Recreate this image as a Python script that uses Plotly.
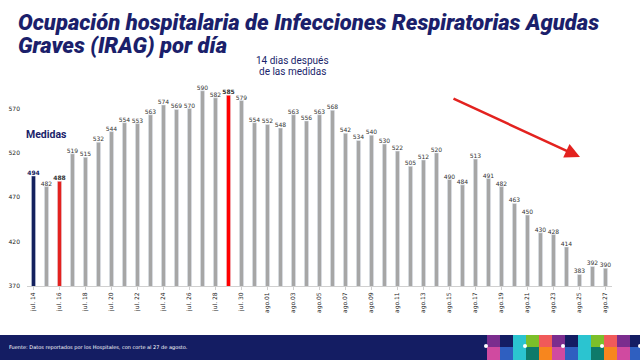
import plotly.graph_objects as go

# ---- data ----
days = (["jul. %d" % d for d in range(14, 32)] +
        ["ago.%02d" % d for d in range(1, 28)])
values = [494, 482, 488, 519, 515, 532, 544, 554, 553, 563, 574, 569, 570, 590,
          582, 585, 579, 554,
          552, 548, 563, 556, 563, 568, 542, 534, 540, 530, 522, 505, 512, 520,
          490, 484, 513, 491, 482, 463, 450, 430, 428, 414, 383, 392, 390]
highlight = {"jul. 14": "navy", "jul. 16": "red1", "jul. 29": "red2"}
yticks = [370, 420, 470, 520, 570]

W, H = 640, 360
ML, MR, MT, MB = 27, 28, 73, 74
PW, PH = W - ML - MR, H - MT - MB


def px(x):
    return (x - ML) / PW


def py(y):
    return (H - MB - y) / PH


cmap = {"navy": "#14215e", "red1": "#e3221f", "red2": "#ff0000"}
colors = [cmap.get(highlight.get(d), "#a6a6a6") for d in days]
texts = []
for d, v in zip(days, values):
    if highlight.get(d) == "navy":
        texts.append("<span style='color:#14215e'><b>%d</b></span>" % v)
    elif d in highlight:
        texts.append("<b>%d</b>" % v)
    else:
        texts.append(str(v))

fig = go.Figure(go.Bar(
    x=days, y=values, marker_color=colors, text=texts,
    textposition="outside", cliponaxis=False,
    textfont=dict(size=6, color="#333333", family="DejaVu Sans"),
    width=0.32, hoverinfo="skip",
))

fig.update_layout(
    width=W, height=H, margin=dict(l=ML, r=MR, t=MT, b=MB, autoexpand=False),
    plot_bgcolor="white", paper_bgcolor="white", showlegend=False,
    uniformtext=dict(minsize=5, mode="show"),
)
fig.update_xaxes(
    type="category", range=[-0.5, len(days) - 0.5], automargin=False,
    tickvals=days[::2], ticktext=days[::2], tickangle=-90,
    tickfont=dict(size=6, color="#222222", family="DejaVu Sans"),
    showline=True, linecolor="#d0d0d0", linewidth=1,
    ticks="outside", ticklen=3, tickcolor="#d0d0d0", showgrid=False,
)
fig.update_yaxes(
    range=[370, 610], tickvals=yticks, showgrid=False, zeroline=False,
    automargin=False, ticklabelstandoff=6,
    tickfont=dict(size=6, color="#222222", family="DejaVu Sans"),
    showline=False,
)


def label(x, y, text, size, xanchor="center", **font):
    return dict(x=px(x), y=py(y), xref="paper", yref="paper", text=text,
                xanchor=xanchor, yanchor="middle", showarrow=False, align="center",
                font=dict(size=size, **font))


title_font = dict(family="Roboto", color="#1b1f6b", weight=900, style="italic")
ann = [
    label(16, 22, "Ocupación hospitalaria de Infecciones Respiratorias Agudas",
          22, xanchor="left", **title_font),
    label(16, 45, "Graves (IRAG) por día", 22, xanchor="left", **title_font),
    label(292, 60, "14 dias después", 10, family="Roboto", color="#1b1f6b"),
    label(292, 72, "de las medidas", 10, family="Roboto", color="#1b1f6b"),
    label(46, 134, "<b>Medidas</b>", 10.5, family="Roboto", color="#1b1f6b"),
    label(7, 347, "Fuente: Datos reportados por los Hospitales, con corte al 27 de agosto.",
          5, xanchor="left", family="DejaVu Sans", color="white"),
    dict(x=px(580), y=py(157), xref="paper", yref="paper", text="",
         showarrow=True, arrowhead=2, arrowsize=1.2, arrowwidth=2.5,
         arrowcolor="#e3221f", ax=452 - 580, ay=98 - 157),
]

shapes = []
shapes.append(dict(type="rect", xref="paper", yref="paper",
                   x0=px(0), x1=px(640), y0=py(335), y1=py(362),
                   fillcolor="#141d63", line_width=0, layer="above"))
tops = ["#7b2d8e", "#141d63", "#2bc4d0", "#7cbf2a", "#f05a5a"]
bots = ["#d04aa0", "#2f5fc0", "#2bc4d0", "#0e7a6a", "#f7861e"]
x = 487
i = 0
while x < 640:
    shapes.append(dict(type="rect", xref="paper", yref="paper",
                       x0=px(x), x1=px(x + 13), y0=py(335), y1=py(347),
                       fillcolor=tops[i % 5], line_width=0, layer="above"))
    shapes.append(dict(type="rect", xref="paper", yref="paper",
                       x0=px(x), x1=px(x + 13), y0=py(347), y1=py(362),
                       fillcolor=bots[i % 5], line_width=0, layer="above"))
    x += 13
    i += 1
for cx in [486, 525, 563, 602, 640]:
    shapes.append(dict(type="circle", xref="paper", yref="paper",
                       x0=px(cx - 2), x1=px(cx + 2), y0=py(344), y1=py(348),
                       fillcolor="white", line_width=0, layer="above"))

fig.update_layout(annotations=ann, shapes=shapes)
fig.write_html("out.html", config={"displayModeBar": False},
               post_script="document.body.style.margin='0';document.body.style.overflow='hidden';")
